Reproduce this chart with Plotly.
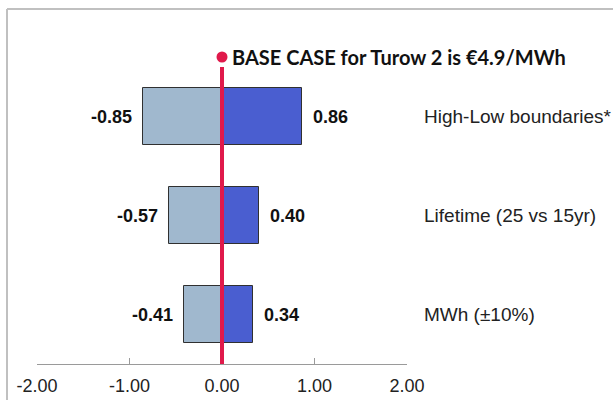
import plotly.graph_objects as go

categories = ["High-Low boundaries*", "Lifetime (25 vs 15yr)", "MWh (±10%)"]
low_values = [-0.85, -0.57, -0.41]
high_values = [0.86, 0.40, 0.34]
x_ticks = [-2, -1, 0, 1, 2]
x_tick_labels = ["-2.00", "-1.00", "0.00", "1.00", "2.00"]
base_case_text = "BASE CASE for Turow 2 is €4.9/MWh"

LIGHT = "#a0b8ce"
DARK = "#4a5ed0"
RED = "#e0194b"
OUTLINE = "#303030"

fig = go.Figure()
fig.add_trace(go.Bar(y=categories, x=low_values, orientation="h", base=0,
                     marker=dict(color=LIGHT, line=dict(color=OUTLINE, width=1)),
                     width=0.57, hoverinfo="skip"))
fig.add_trace(go.Bar(y=categories, x=high_values, orientation="h", base=0,
                     marker=dict(color=DARK, line=dict(color=OUTLINE, width=1)),
                     width=0.57, hoverinfo="skip"))

annotations = []
for c, v in zip(categories, low_values):
    annotations.append(dict(x=v, y=c, xref="x", yref="y", text=f"<b>{v:.2f}</b>",
                            xanchor="right", xshift=-9, showarrow=False,
                            font=dict(family="Liberation Sans", size=18, color="#111")))
for c, v in zip(categories, high_values):
    annotations.append(dict(x=v, y=c, xref="x", yref="y", text=f"<b>{v:.2f}</b>",
                            xanchor="left", xshift=9, showarrow=False,
                            font=dict(family="Liberation Sans", size=18, color="#111")))
for c in categories:
    annotations.append(dict(x=1.04, y=c, xref="paper", yref="y", text=c,
                            xanchor="left", showarrow=False,
                            font=dict(family="Liberation Sans", size=19, color="#222")))
annotations.append(dict(x=0, y=1, xref="x", yref="paper", text="<b>" + base_case_text + "</b>",
                        xanchor="left", yanchor="middle", xshift=8, yshift=10, showarrow=False,
                        font=dict(family="Lato", size=20, color="#111")))

shapes = [
    dict(type="line", xref="paper", yref="paper", x0=-0.0811, x1=1.6, y0=1.195, y1=1.195,
         line=dict(color="#c0c0c0", width=2), layer="above"),
    dict(type="line", xref="paper", yref="paper", x0=-0.0811, x1=-0.0811, y0=-0.2, y1=1.195,
         line=dict(color="#c0c0c0", width=2), layer="above"),
    dict(type="line", xref="x", yref="paper", x0=0, x1=0, y0=0, y1=1.0,
         line=dict(color=RED, width=4), layer="above"),
    dict(type="circle", xref="x", yref="paper", xsizemode="pixel", ysizemode="pixel",
         xanchor=0, yanchor=1, x0=-5.5, x1=5.5, y0=4.5, y1=15.5,
         fillcolor=RED, line=dict(color=RED, width=0), layer="above"),
]

fig.update_layout(
    width=613, height=400,
    margin=dict(l=37, r=206, t=67, b=36, autoexpand=False),
    paper_bgcolor="white", plot_bgcolor="white",
    barmode="overlay", showlegend=False, bargap=0,
    annotations=annotations, shapes=shapes,
    xaxis=dict(range=[-2, 2], tickvals=x_ticks, ticktext=x_tick_labels, automargin=False,
               showgrid=False, zeroline=False, showline=True, linecolor="#9a9a9a", linewidth=1,
               ticks="inside", ticklen=6, tickcolor="#9a9a9a", tickwidth=1,
               tickfont=dict(family="Liberation Sans", size=18, color="#222"),
               ticklabelstandoff=5),
    yaxis=dict(range=[2.5, -0.5], showticklabels=False, showgrid=False, zeroline=False,
               showline=False, ticks="", automargin=False),
)

fig.write_html("out.html", config={"displayModeBar": False},
               post_script="document.body.style.margin='0';document.body.style.overflow='hidden';")
